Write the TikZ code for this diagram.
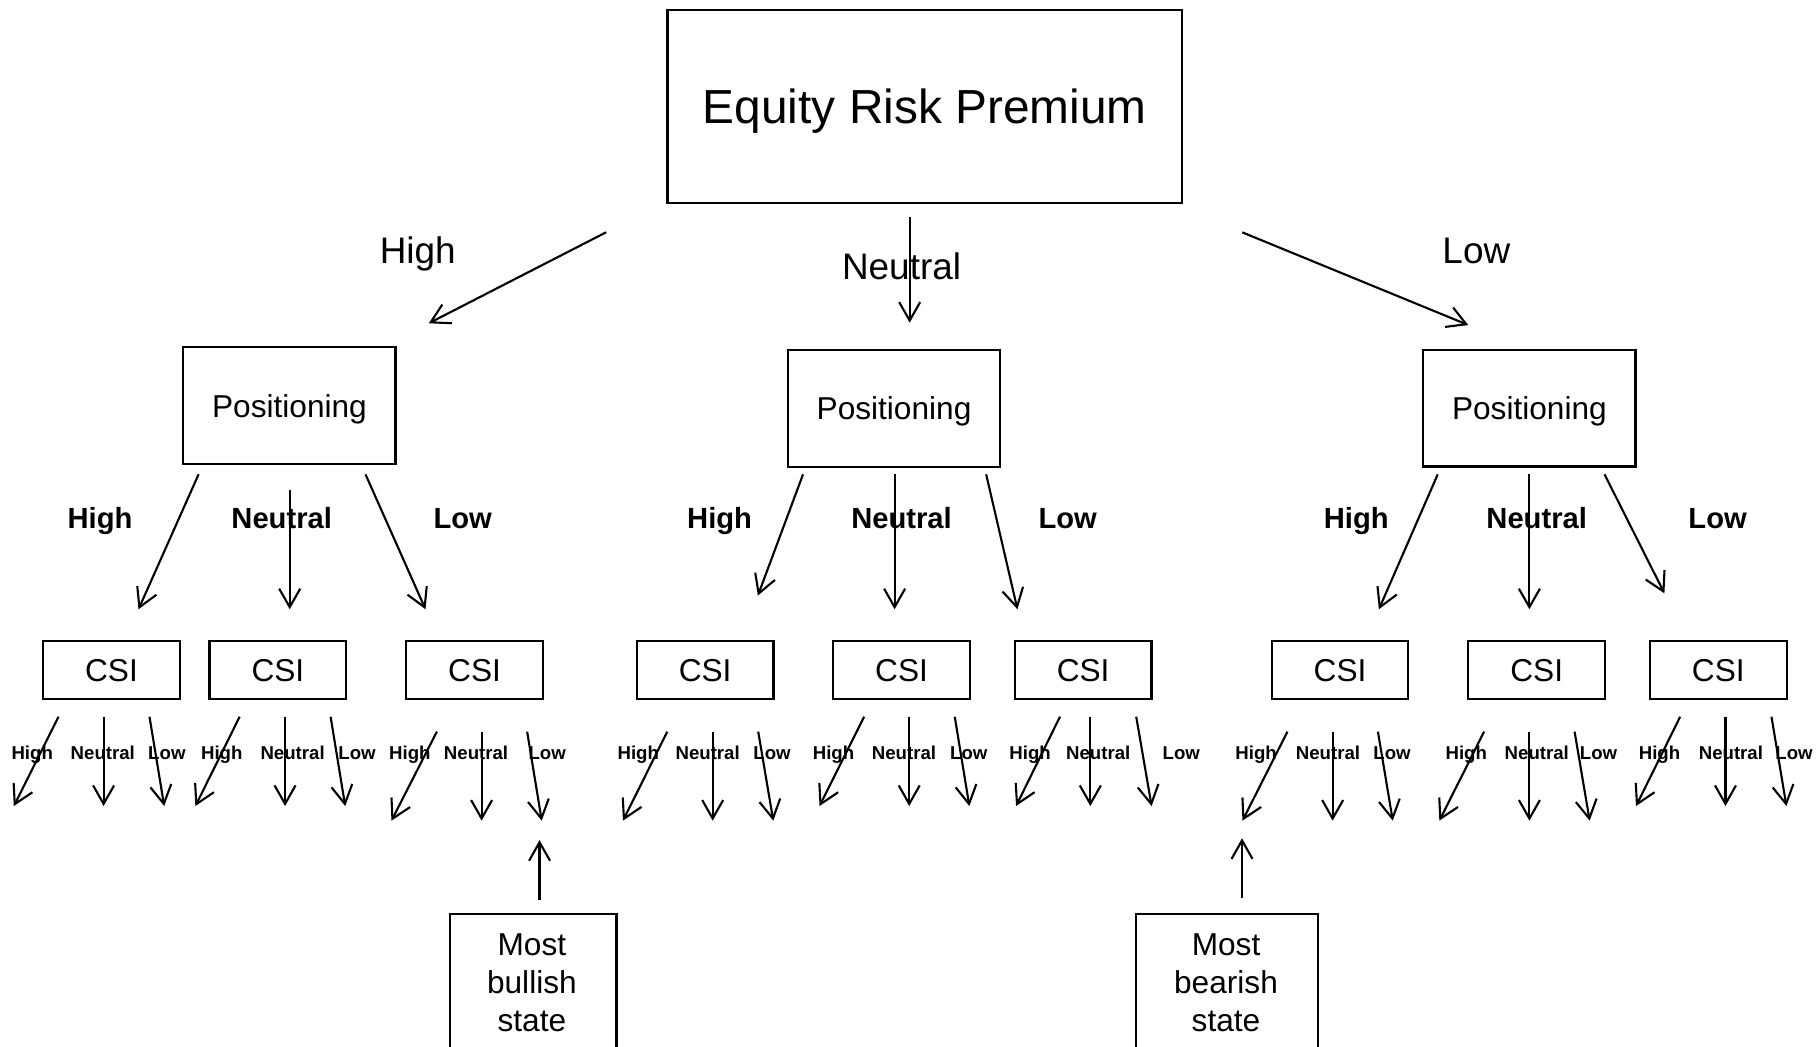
\documentclass[tikz,border=0pt]{standalone}
\usepackage{fontspec}
\setmainfont{Liberation Sans}
\usetikzlibrary{arrows.meta}

\def\pxu{0.11588mm}

\begin{document}
\begin{tikzpicture}[x=0.11588mm, y=-0.11588mm,
	box/.style={draw, line width=0.6pt, inner sep=0pt, text depth=0pt},
	arr/.style={-{Straight Barb[length=1.85mm, width=2.1mm]}, line width=0.6pt},
	toplab/.style={anchor=base, font=\fontsize{10.5}{12}\selectfont},
	midlab/.style={anchor=base, font=\fontsize{8.3}{10}\selectfont\bfseries},
	lowlab/.style={anchor=base, font=\fontsize{5.3}{6}\selectfont\bfseries}]
	\useasboundingbox (0,0) rectangle (1568,903);

	\node[box, minimum width=444*\pxu, minimum height=167*\pxu, font=\fontsize{13.6}{16}\selectfont] (erp) at (798,92) {Equity Risk Premium};
	\node[toplab] (erpH) at (360.5,227.8) {High};
	\node[toplab] (erpN) at (778,240.8) {Neutral};
	\node[toplab] (erpL) at (1274,227.8) {Low};

	\node[box, minimum width=183*\pxu, minimum height=100.5*\pxu, font=\fontsize{9}{11}\selectfont] (posA) at (249.8,350) {Positioning};
	\node[box, minimum width=183*\pxu, minimum height=100.5*\pxu, font=\fontsize{9}{11}\selectfont] (posB) at (771.5,352.5) {Positioning};
	\node[box, minimum width=183*\pxu, minimum height=100.5*\pxu, font=\fontsize{9}{11}\selectfont] (posC) at (1319.8,352.3) {Positioning};

	\foreach \n/\x in {a/86.3, b/621, c/1170.4} \node[midlab] (\n H) at (\x,456.5) {High};
	\foreach \n/\x in {a/243.1, b/778, c/1326.1} \node[midlab] (\n N) at (\x,456.5) {Neutral};
	\foreach \n/\x in {a/399.3, b/921.4, c/1482.2} \node[midlab] (\n L) at (\x,456.5) {Low};

	%% first and second level arrows
	\foreach \n/\ax/\ay/\bx/\by in {
		eh/523/200.5/370/279, en/785/187.5/785/278.5, el/1072/200.5/1267/280.5,
		ah/171.4/409.3/119.5/525.8, an/250/422.9/250/525.8, al/315.4/409.3/367.2/525.8,
		bh/693/409.3/654/514, bn/772/409.3/772/525.8, bl/851/409.3/878/525.8,
		ch/1240.7/409.3/1189.9/525.8, cn/1319.8/409.3/1319.8/525.8, cl/1384.6/409.3/1436.3/512}
	{
		\coordinate (\n1) at (\ax,\ay);
		\coordinate (\n2) at (\bx,\by);
		\draw[arr] (\n1) -- (\n2);
	}

	%% CSI boxes with their three branches
	\foreach \k/\cx/\hs/\he/\ns/\ls/\le/\t/\e/\lh/\ln/\ll in {
		1/96.2/50.5/11.9/89.4/129/141.7/618.5/695.6/27.8/88.7/144,
		2/239.8/206.8/168.6/246/285.3/297.9/618.5/695.6/191.4/252.5/308.1,
		3/409.5/377/337.8/415.6/454.9/467.5/631.4/708.2/353.7/410.8/472.2,
		4/608.5/575.8/537.6/615/654.3/667.3/631.4/708.2/550.8/610.7/666.2,
		5/778/745.7/707.2/784.6/823.9/836.5/618.5/695.6/719.3/780.1/836,
		6/934.7/914.7/876.8/940.9/980.5/993.8/618.5/695.6/888.9/947.7/1019.4,
		7/1156.4/1111/1072.2/1150/1189.1/1201.9/631.4/708.2/1084/1146/1201.3,
		8/1326.1/1280.7/1242.1/1319.8/1358.8/1371.8/631.4/708.2/1265.3/1326.2/1379.5,
		9/1482.8/1449.9/1411.8/1489/1528.7/1541.6/618.5/695.6/1432.1/1493.7/1548.2}
	{
		\node[box, minimum width=118*\pxu, minimum height=50*\pxu, font=\fontsize{9}{11}\selectfont] (csi\k) at (\cx,578.2) {CSI};
		\node[lowlab] (csi\k H) at (\lh,655.3) {High};
		\node[lowlab] (csi\k N) at (\ln,655.3) {Neutral};
		\node[lowlab] (csi\k L) at (\ll,655.3) {Low};
		\coordinate (h\k1) at (\hs,\t);
		\coordinate (h\k2) at (\he,\e);
		\coordinate (n\k1) at (\ns,\t);
		\coordinate (n\k2) at (\ns,\e);
		\coordinate (l\k1) at (\ls,\t);
		\coordinate (l\k2) at (\le,\e);
		\draw[arr] (h\k1) -- (h\k2);
		\draw[arr] (n\k1) -- (n\k2);
		\draw[arr] (l\k1) -- (l\k2);
	}

	\node[box, minimum width=144*\pxu, minimum height=160*\pxu, anchor=north] (bull) at (460,788) {};
	\node[anchor=north, align=center, inner sep=0pt, font=\fontsize{9}{10.9}\selectfont] (bulltxt) at (459,805) {Most\\bullish\\state};
	\node[box, minimum width=157*\pxu, minimum height=160*\pxu, anchor=north] (bear) at (1058.5,788) {};
	\node[anchor=north, align=center, inner sep=0pt, font=\fontsize{9}{10.9}\selectfont] (beartxt) at (1058,805) {Most\\bearish\\state};

	\coordinate (bullA) at (465.6,776.7);
	\coordinate (bullB) at (465.6,725);
	\coordinate (bearA) at (1071.8,775.2);
	\coordinate (bearB) at (1071.8,723.4);
	\draw[arr] (bullA) -- (bullB);
	\draw[arr] (bearA) -- (bearB);
\end{tikzpicture}
\end{document}
